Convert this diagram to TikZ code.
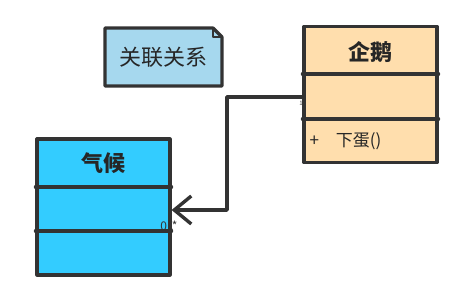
\documentclass[tikz,border=0pt]{standalone}
\usepackage{fontspec}
\usepackage{tikz}
\usetikzlibrary{arrows.meta, calc}
\newfontfamily\cjk{Noto Sans CJK SC}
\definecolor{linec}{RGB}{51,51,51}
\definecolor{notec}{RGB}{166,216,238}
\definecolor{qiec}{RGB}{255,222,173}
\definecolor{qihouc}{RGB}{51,204,255}

\begin{document}
\begin{tikzpicture}[x=1pt, y=-1pt, line join=round, line cap=round,
    classbox/.style={draw=linec, line width=3.2pt, minimum width=133pt, minimum height=136pt, inner sep=0pt},
    sep/.style={draw=linec, line width=3.2pt},
    assoc/.style={draw=linec, line width=3.4pt, -{Straight Barb[length=17pt, width=28pt]}}]
  \useasboundingbox (0,0) rectangle (471,305);

  % note
  \draw[linec, fill=notec, line width=3.2pt]
    (105,28) -- (213,28) -- (222,37) -- (222,86) -- (105,86) -- cycle;
  \draw[linec, line width=1.2pt] (213,28) -- (213,37) -- (222,37);
  \node[font=\cjk\fontsize{22}{26}\selectfont, text=black!85] (note) at (163.5,57) {关联关系};

  % penguin class
  \node[classbox, fill=qiec] (qie) at (370.5,94.5) {};
  \draw[sep] (qie.north west |- 0,74) -- (qie.north east |- 0,74);
  \draw[sep] (qie.north west |- 0,119) -- (qie.north east |- 0,119);
  \node[font=\cjk\bfseries\fontsize{22}{26}\selectfont, text=black!85] (qiename) at (370.5,52) {企鹅};
  \node[font=\cjk\fontsize{17}{20}\selectfont, text=black!85, anchor=west] (layegg) at (306,141) {+\hspace{17pt}下蛋()};

  % climate class
  \node[classbox, fill=qihouc] (qihou) at (103.5,207) {};
  \draw[sep] (qihou.north west |- 0,187) -- (qihou.north east |- 0,187);
  \draw[sep] (qihou.north west |- 0,231) -- (qihou.north east |- 0,231);
  \node[font=\cjk\bfseries\fontsize{22}{26}\selectfont, text=black!85] (qihouname) at (103.5,163) {气候};

  % association
  \coordinate (bend) at (227,210);
  \draw[assoc] ([yshift=-2.5pt]qie.west) -| (bend) -- ([yshift=-3pt]qihou.east);
  \node[font=\cjk\fontsize{12}{14}\selectfont, text=black!80, inner sep=0pt] (mult) at (169,226) {0..*};
  \node[font=\cjk\fontsize{6}{7}\selectfont, text=black!70, inner sep=0pt] (one) at (301,103) {1};
\end{tikzpicture}
\end{document}
